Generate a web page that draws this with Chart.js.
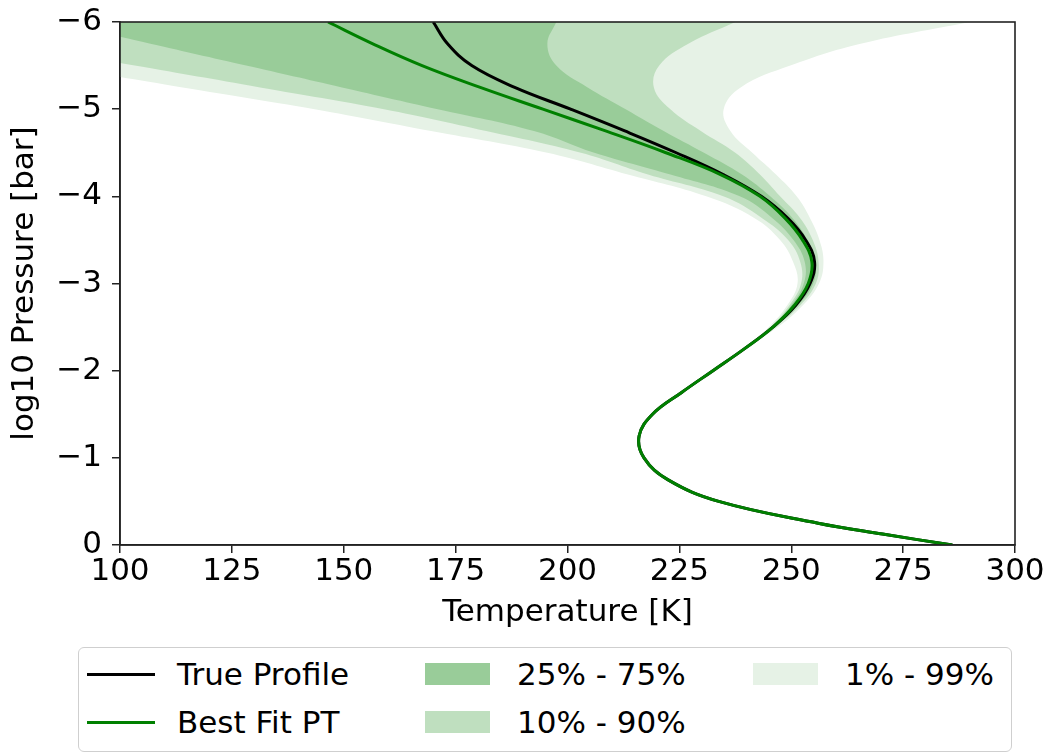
<!DOCTYPE html>
<html>
<head>
<meta charset="utf-8">
<title>Temperature–pressure profile</title>
<script src="https://cdn.jsdelivr.net/npm/chart.js@4.4.1/dist/chart.umd.min.js"></script>
<style>
  html, body { margin: 0; padding: 0; background: #fff; }
  #wrap { position: relative; width: 1046px; height: 753px; overflow: hidden; }
  #chart { position: absolute; left: 0; top: 0; }
  #legend {
    position: absolute; left: 78px; top: 647px; width: 934px; height: 105px;
    box-sizing: border-box; border: 1.5px solid #cfcfcf; border-radius: 6px; background: #fff;
    font-family: 'DejaVu Sans', sans-serif; font-size: 31px; color: #000;
  }
  .item { position: absolute; height: 40px; display: flex; align-items: center; white-space: nowrap; }
  .swatch-line { height: 3px; width: 68px; margin-right: 22px; }
  .swatch-patch { height: 22px; width: 65px; margin-right: 27px; }
</style>
</head>
<body>
<div id="wrap">
  <canvas id="chart" width="1046" height="753"></canvas>
  <div id="legend"></div>
</div>
<script>
// log10 pressure levels [bar] at which the profiles are tabulated
const logP = [-6, -5.75, -5.5, -5.25, -5, -4.75, -4.5, -4.25, -4, -3.75, -3.5, -3.25, -3,
              -2.75, -2.5, -2.25, -2, -1.75, -1.5, -1.25, -1, -0.75, -0.5, -0.25, -0.125, 0];

// temperatures [K] on those levels
const bestFit     = [146.5, 156.5, 167.5, 180.5, 194.5, 208.5, 222, 234.2, 243, 248.6, 252.5, 254.6, 253.8,
                     250.7, 245.9, 239.5, 232.5, 225.5, 219, 216, 217.1, 222.4, 233.8, 256, 270.4, 286];
const trueProfile = [170, 173.2, 178.6, 188.2, 200.7, 212.8, 224.3, 234.8, 243.3, 249.2, 253.2, 255.2, 254.2,
                     251, 245.9, 239.5, 232.5, 225.5, 219, 216, 217.1, 222.4, 233.8, 256, 270.4, 286];

// percentile envelopes, given on the upper levels only (they close up by -2.25)
const bandP     = [-6, -5.75, -5.5, -5.25, -5, -4.75, -4.5, -4.25, -4, -3.75, -3.5, -3.25, -3, -2.75, -2.5, -2.25];
const band25Lo  = [85.5, 106.8, 128.2, 149.6, 171, 192.5, 206, 223, 238.5, 245.8, 250.5, 253.0, 252.8, 250.0, 245.6, 239.5];
const band25Hi  = [197.5, 195.5, 197.5, 204.5, 213, 221.5, 230.5, 239, 245.3, 250.3, 253.6, 255.4, 254.9, 251.5, 246.2, 239.5];
const band10Lo  = [48, 75.5, 103.3, 131.3, 159, 181.8, 203, 218, 234.8, 243.5, 249.3, 252.0, 252.2, 249.6, 245.4, 239.5];
const band10Hi  = [237.5, 227, 220.5, 219.3, 223, 229.8, 237.5, 243, 247.5, 252, 254.8, 256.1, 255.5, 252.0, 246.4, 239.5];
const band1Lo   = [26, 55.3, 84.7, 114, 143.5, 169.5, 195.5, 213.5, 231, 241.8, 247.5, 250.4, 251.4, 249.1, 245.0, 239.5];
const band1Hi   = [290, 265.5, 249.8, 238.7, 234.9, 236.4, 241.3, 246.6, 251.2, 254.2, 256.3, 257.2, 256.2, 252.6, 247.0, 239.5];

const xTicks = [100, 125, 150, 175, 200, 225, 250, 275, 300];
const yTicks = [-6, -5, -4, -3, -2, -1, 0];

const GREEN = '#008000';
const C25 = '#99cc99';
const C10 = '#bfdfbf';
const C1  = '#e6f2e6';

const pts = (ps, ts) => ts.map((t, i) => ({ x: t, y: ps[i] }));

const lineBase = { pointRadius: 0, pointHoverRadius: 0, tension: 0.4, capBezierPoints: false };
const edge = (data) => Object.assign({ data, borderWidth: 0, borderColor: 'rgba(0,0,0,0)',
                                       backgroundColor: 'rgba(0,0,0,0)', fill: false }, lineBase);

const datasets = [
  Object.assign({ label: 'Best Fit PT', data: pts(logP, bestFit), borderColor: GREEN, borderWidth: 3, fill: false }, lineBase),
  Object.assign({ label: 'True Profile', data: pts(logP, trueProfile), borderColor: '#000', borderWidth: 3, fill: false }, lineBase),
  Object.assign(edge(pts(bandP, band25Hi)), { label: '25% - 75%', fill: 3, backgroundColor: C25 }),
  edge(pts(bandP, band25Lo)),
  Object.assign(edge(pts(bandP, band10Hi)), { label: '10% - 90%', fill: 5, backgroundColor: C10 }),
  edge(pts(bandP, band10Lo)),
  Object.assign(edge(pts(bandP, band1Hi)), { label: '1% - 99%', fill: 7, backgroundColor: C1 }),
  edge(pts(bandP, band1Lo))
];

// axes frame on all four sides
const frame = {
  id: 'frame',
  afterDatasetsDraw(chart) {
    const { ctx, chartArea: a } = chart;
    ctx.save();
    ctx.strokeStyle = '#222';
    ctx.lineWidth = 1.6;
    ctx.strokeRect(a.left, a.top, a.right - a.left, a.bottom - a.top);
    ctx.restore();
  }
};

Chart.defaults.font.family = "'DejaVu Sans', sans-serif";
Chart.defaults.font.size = 31;
Chart.defaults.color = '#000';

const fmt = v => (v < 0 ? '\u2212' + Math.abs(v) : String(v));

const chart = new Chart(document.getElementById('chart'), {
  type: 'line',
  data: { datasets },
  plugins: [frame],
  options: {
    indexAxis: 'y',
    responsive: false,
    animation: false,
    events: [],
    layout: { padding: { left: 0, right: 31, top: 22, bottom: 108 } },
    plugins: { legend: { display: false }, tooltip: { enabled: false }, filler: { propagate: false } },
    scales: {
      x: {
        type: 'linear', min: xTicks[0], max: xTicks[xTicks.length - 1],
        afterBuildTicks: s => { s.ticks = xTicks.map(v => ({ value: v })); },
        ticks: { padding: 0, maxRotation: 0, autoSkip: false, font: { size: 31 } },
        grid: { display: true, drawOnChartArea: false, drawTicks: true, tickLength: 8, color: '#222', lineWidth: 1.5 },
        border: { display: true, color: '#222', width: 1.6 },
        title: { display: true, text: 'Temperature [K]', font: { size: 31 }, padding: { top: 0, bottom: 13 } },
        afterFit: s => { s.height = 100; }
      },
      y: {
        type: 'linear', reverse: true, min: yTicks[0], max: yTicks[yTicks.length - 1],
        afterBuildTicks: s => { s.ticks = yTicks.map(v => ({ value: v })); },
        ticks: { padding: 10, autoSkip: false, font: { size: 31 }, callback: fmt },
        grid: { display: true, drawOnChartArea: false, drawTicks: true, tickLength: 8, color: '#222', lineWidth: 1.5 },
        border: { display: true, color: '#222', width: 1.6 },
        title: { display: true, text: 'log10 Pressure [bar]', font: { size: 31 }, padding: { top: 6, bottom: 0 } },
        afterFit: s => { s.width = 120; s.paddingTop = 0; s.paddingBottom = 0; }
      }
    }
  }
});

// legend: three columns, filled column by column
const legendItems = [
  { label: 'True Profile', kind: 'line',  color: '#000', col: 0, row: 0 },
  { label: 'Best Fit PT',  kind: 'line',  color: GREEN,  col: 0, row: 1 },
  { label: '25% - 75%',    kind: 'patch', color: C25,    col: 1, row: 0 },
  { label: '10% - 90%',    kind: 'patch', color: C10,    col: 1, row: 1 },
  { label: '1% - 99%',     kind: 'patch', color: C1,     col: 2, row: 0 }
];
const colLeft = [8, 346, 674];
const rowMid = [26, 74];
const legend = document.getElementById('legend');
legendItems.forEach(it => {
  const el = document.createElement('div');
  el.className = 'item';
  el.style.left = colLeft[it.col] + 'px';
  el.style.top = (rowMid[it.row] - 20) + 'px';
  const sw = document.createElement('span');
  sw.className = it.kind === 'line' ? 'swatch-line' : 'swatch-patch';
  sw.style.background = it.color;
  const tx = document.createElement('span');
  tx.textContent = it.label;
  el.appendChild(sw);
  el.appendChild(tx);
  legend.appendChild(el);
});
</script>
</body>
</html>
